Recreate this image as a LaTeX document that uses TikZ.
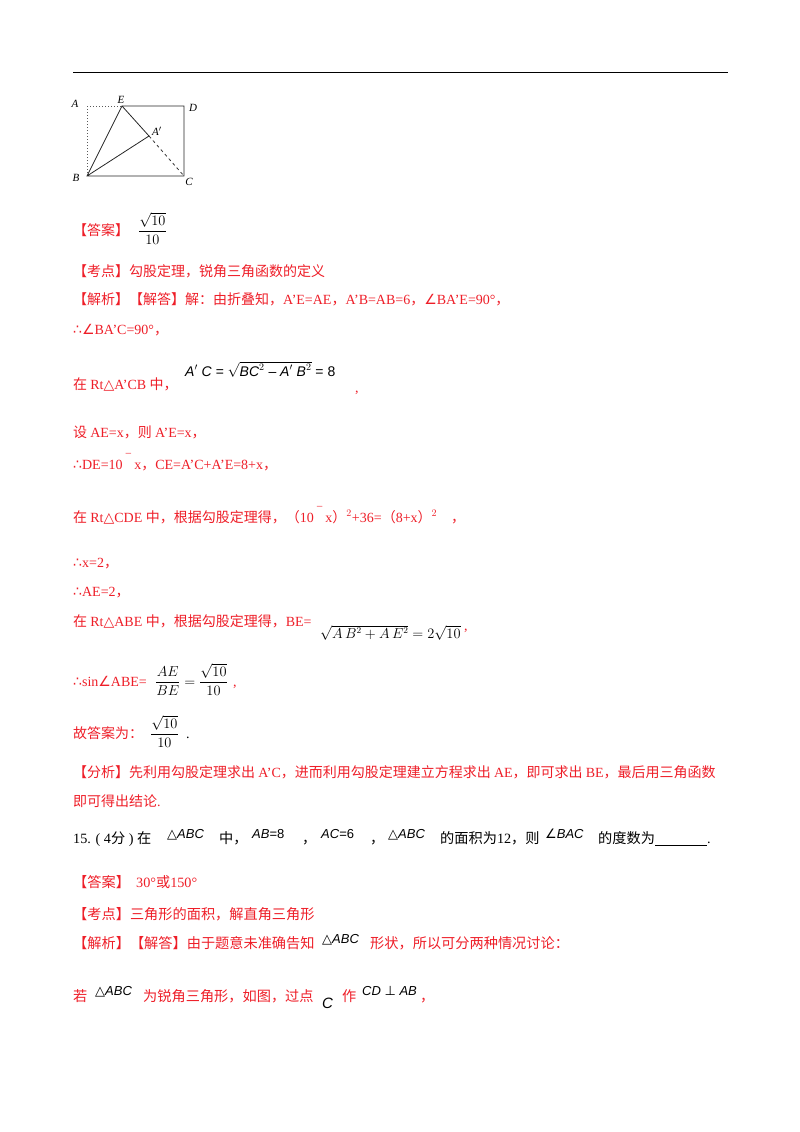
\documentclass[tikz,border=0pt]{standalone}
\usepackage{fontspec}
\setmainfont{Liberation Serif}
\setsansfont{Liberation Sans}
\newfontfamily\cjk{Noto Sans CJK SC}
\newfontfamily\dv{DejaVu Sans}
\newcommand\sy[1]{{\dv #1}}
\definecolor{ans}{RGB}{238,30,40}
\begin{document}
\begin{tikzpicture}[x=1pt,y=-1pt,
  t/.style={anchor=base west,inner sep=0pt,font=\fontsize{14}{14}\selectfont},
  r/.style={t,text=ans},
  s/.style={anchor=base west,inner sep=0pt,font=\fontsize{14.2}{15}\selectfont},
  rs/.style={s,text=ans},
  lab/.style={inner sep=0pt,font=\fontsize{11}{12}\selectfont\itshape},
  fm/.style={anchor=base west,inner sep=0pt,font=\fontsize{14}{14}\selectfont},
  fs/.style={anchor=base west,inner sep=0pt,font=\fontsize{13}{13}\selectfont\sffamily}]
\useasboundingbox (0,0) rectangle (800,1132);
\draw[line width=0.8pt] (73,72) -- (728,72);
% figure
\coordinate (A) at (87,106);
\coordinate (E) at (122,106);
\coordinate (D) at (184,106);
\coordinate (B) at (87,176);
\coordinate (C) at (184,176);
\coordinate (Ap) at (149,136);
\draw[dotted,line width=1pt,gray!70!black] (A) -- (E) (A) -- (B);
\draw[line width=0.8pt,gray!30!black] (E) -- (D) -- (C) -- (B) -- (E) -- (Ap) -- (B);
\draw[dashed,line width=0.8pt,gray!40!black] (Ap) -- (C);
\node[lab] (lA) at (75,104) {A};
\node[lab] (lE) at (121,100) {E};
\node[lab] (lD) at (193,108) {D};
\node[lab] (lAp) at (157,131) {A$'$};
\node[lab] (lB) at (76,178) {B};
\node[lab] (lC) at (189,182) {C};
% answer block
\node[r] (l1) at (73,235) {\cjk 【答案】};
\node[fm] (f1) at (138,235) {$\displaystyle\frac{\sqrt{10}}{10}$};
\node[r] (l2) at (73,276) {\cjk 【考点】勾股定理，锐角三角函数的定义};
\node[r] (l3) at (73,304) {\cjk 【解析】【解答】解：由折叠知，\rmfamily A'E=AE\cjk ，\rmfamily A'B=AB=6\cjk ，\sy{∠}\rmfamily BA'E=90°\cjk ，};
\node[r] (l4) at (73,334) {\sy{∴∠}BA'C=90°\cjk ，};
\node[r] (l5) at (73,389) {\cjk 在 \rmfamily Rt\sy{△}A'CB \cjk 中，};
\node[fm] (f5) at (185,376) {\sffamily\itshape A$'$ C = $\sqrt{\mbox{\sffamily\itshape BC$^2$ -- A$'$ B$^2$}}$ \upshape= 8};
\node[r] (l5b) at (355,392) {,};
\node[r] (l6) at (73,437) {\cjk 设 \rmfamily AE=x\cjk ，则 \rmfamily A'E=x\cjk ，};
\node[r] (l7) at (73,469) {\sy{∴}DE=10 \raisebox{5pt}{‾} x\cjk ，\rmfamily CE=A'C+A'E=8+x\cjk ，};
\node[r] (l8) at (73,522) {\cjk 在 \rmfamily Rt\sy{△}CDE \cjk 中，根据勾股定理得，（\rmfamily 10 \raisebox{5pt}{‾} x\cjk ）\rmfamily $^{2}$+36=\cjk （\rmfamily 8+x\cjk ）\rmfamily$^{2}$\quad\cjk ，};
\node[r] (l9) at (73,567) {\sy{∴}x=2\cjk ，};
\node[r] (l10) at (73,596) {\sy{∴}AE=2\cjk ，};
\node[r] (l11) at (73,626) {\cjk 在 \rmfamily Rt\sy{△}ABE \cjk 中，根据勾股定理得，\rmfamily BE=};
\node[anchor=base west,inner sep=0pt,font=\fontsize{13.5}{14}\selectfont] (f11) at (320,638) {$\sqrt{A\,B^2+A\,E^2}=2\sqrt{10}$};
\node[r] (l11b) at (464,630) {,};
\node[r] (l12) at (73,686) {\sy{∴}sin\sy{∠}ABE=};
\node[fm] (f12) at (155,686) {$\displaystyle\frac{AE}{BE}=\frac{\sqrt{10}}{10}$};
\node[r] (l12b) at (233,686) {,};
\node[r] (l13) at (73,738) {\cjk 故答案为：};
\node[fm] (f13) at (150,738) {$\displaystyle\frac{\sqrt{10}}{10}$};
\node[t] (l13b) at (186,738) {.};
\node[r] (l14) at (73,777) {\cjk 【分析】先利用勾股定理求出 \rmfamily A'C\cjk ，进而利用勾股定理建立方程求出 \rmfamily AE\cjk ，即可求出 \rmfamily BE\cjk ，最后用三角函数};
\node[r] (l15) at (73,806) {\cjk 即可得出结论\rmfamily .};
% question 15
\node[s] (q1) at (73,843) {15. ( 4\cjk 分\rmfamily\ ) \cjk 在};
\node[fs] (q2) at (167,838) {\sy{△}\itshape ABC};
\node[s] (q3) at (219,843) {\cjk 中，};
\node[fs] (q4) at (252,838) {\itshape AB\upshape =8};
\node[s] (q5) at (302,843) {\cjk ，};
\node[fs] (q6) at (321,838) {\itshape AC\upshape =6};
\node[s] (q7) at (370,843) {\cjk ，};
\node[fs] (q8) at (388,838) {\sy{△}\itshape ABC};
\node[s] (q9) at (440,843) {\cjk 的面积为\rmfamily 12\cjk ，则};
\node[fs] (q10) at (545,838) {\sy{∠}\itshape BAC};
\node[s] (q11) at (598,843) {\cjk 的度数为\rule[-2pt]{52pt}{0.5pt}\rmfamily .};
\node[rs] (a1) at (73,887) {\cjk 【答案】};
\node[rs] (a1b) at (136,887) {30°\cjk 或\rmfamily 150°};
\node[rs] (a2) at (73,919) {\cjk 【考点】三角形的面积，解直角三角形};
\node[rs] (a3) at (73,948) {\cjk 【解析】【解答】由于题意未准确告知};
\node[fs] (a3b) at (322,943) {\sy{△}\itshape ABC};
\node[rs] (a3c) at (370,948) {\cjk 形状，所以可分两种情况讨论：};
\node[rs] (a4) at (73,1001) {\cjk 若};
\node[fs] (a4b) at (95,995) {\sy{△}\itshape ABC};
\node[rs] (a4c) at (143,1001) {\cjk 为锐角三角形，如图，过点};
\node[fs] (a4d) at (322,1008) {\fontsize{15}{15}\selectfont\itshape C};
\node[rs] (a4e) at (342,1001) {\cjk 作};
\node[fs] (a4f) at (362,995) {\itshape CD \upshape\sy{⊥} \itshape AB};
\node[rs] (a4g) at (420,1001) {\cjk ，};
\end{tikzpicture}
\end{document}
